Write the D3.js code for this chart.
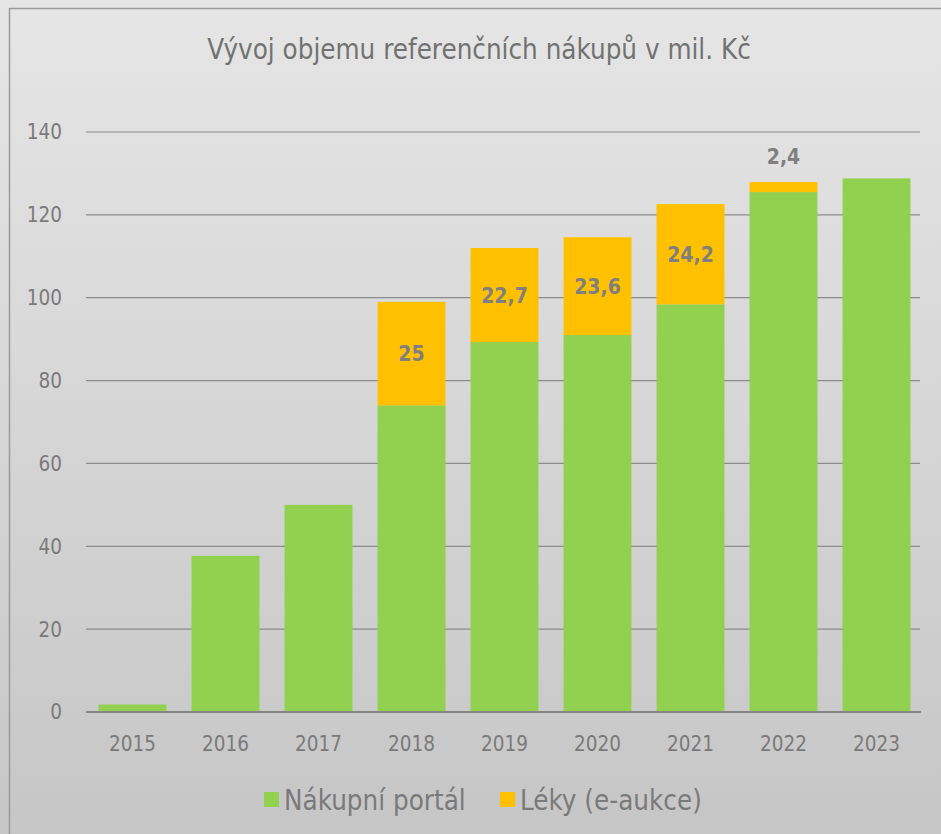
<!DOCTYPE html>
<html>
<head>
<meta charset="utf-8">
<script src="https://cdn.jsdelivr.net/npm/d3@7"></script>
<style>
  html, body { margin: 0; padding: 0; }
  body { width: 941px; height: 834px; overflow: hidden; }
  text { font-family: "DejaVu Sans Condensed", "DejaVu Sans", sans-serif; }
</style>
</head>
<body>
<div id="chart"></div>
<script>
// data
var years = ["2015", "2016", "2017", "2018", "2019", "2020", "2021", "2022", "2023"];
var portal = [1.8, 37.7, 50.0, 74.0, 89.3, 91.0, 98.4, 125.5, 128.8];
var leky = [0, 0, 0, 25, 22.7, 23.6, 24.2, 2.4, 0];
var yTicks = [0, 20, 40, 60, 80, 100, 120, 140];
var seriesNames = ["Nákupní portál", "Léky (e-aukce)"];
var colors = ["#92d050", "#ffc000"];

var width = 941, height = 834;
var margin = { top: 132, right: 18, bottom: 122, left: 86 };
var plotW = width - margin.left - margin.right;
var plotH = height - margin.top - margin.bottom;

var svg = d3.select("#chart").append("svg")
    .attr("width", width)
    .attr("height", height);

// background gradient
var grad = svg.append("defs").append("linearGradient")
    .attr("id", "bg").attr("x1", 0).attr("y1", 0).attr("x2", 0).attr("y2", 1);
grad.append("stop").attr("offset", "0%").attr("stop-color", "#e6e6e6");
grad.append("stop").attr("offset", "100%").attr("stop-color", "#c6c6c6");

svg.append("rect").attr("width", width).attr("height", height).attr("fill", "url(#bg)");
svg.append("rect")
    .attr("x", 9.5).attr("y", 8.5)
    .attr("width", width + 20).attr("height", height + 20)
    .attr("fill", "none").attr("stroke", "#9a9a9a").attr("stroke-width", 1.5);

// title
svg.append("text")
    .attr("x", 479).attr("y", 59)
    .attr("text-anchor", "middle")
    .attr("font-size", 27.5)
    .attr("fill", "#727272")
    .text("Vývoj objemu referenčních nákupů v mil. Kč");

var g = svg.append("g")
    .attr("transform", "translate(" + margin.left + "," + margin.top + ")");

var x = d3.scaleBand().domain(years).range([0, 837]).paddingInner(0.27).paddingOuter(0.135);
var y = d3.scaleLinear().domain([0, 140]).range([plotH, 0]);

// gridlines
g.append("g")
    .selectAll("line")
    .data(yTicks.filter(function(d) { return d > 0; }))
    .enter().append("line")
    .attr("x1", 0).attr("x2", 834)
    .attr("y1", function(d) { return y(d); })
    .attr("y2", function(d) { return y(d); })
    .attr("stroke", "#8c8c8c").attr("stroke-width", 1.2);

// y axis labels
g.append("g")
    .selectAll("text")
    .data(yTicks)
    .enter().append("text")
    .attr("x", -24).attr("y", function(d) { return y(d); })
    .attr("dy", "0.36em")
    .attr("text-anchor", "end")
    .attr("font-size", 20.5)
    .attr("fill", "#7a7a7a")
    .text(function(d) { return d; });

// stacked data
var rows = years.map(function(yr, i) { return { year: yr, portal: portal[i], leky: leky[i] }; });
var stack = d3.stack().keys(["portal", "leky"]);
var layers = stack(rows);

g.selectAll(".layer")
    .data(layers)
    .enter().append("g")
    .attr("class", "layer")
    .attr("fill", function(d, i) { return colors[i]; })
    .selectAll("rect")
    .data(function(d) { return d.filter(function(p) { return p[1] - p[0] > 0; }); })
    .enter().append("rect")
    .attr("x", function(d) { return x(d.data.year); })
    .attr("width", x.bandwidth())
    .attr("y", function(d) { return y(d[1]); })
    .attr("height", function(d) { return y(d[0]) - y(d[1]); });

// labels for e-aukce
g.append("g")
    .selectAll("text")
    .data(layers[1].filter(function(d) { return d[1] - d[0] > 0; }))
    .enter().append("text")
    .attr("x", function(d) { return x(d.data.year) + x.bandwidth() / 2; })
    .attr("y", function(d) {
        var h = y(d[0]) - y(d[1]);
        return h < 30 ? y(d[1]) - 26 : (y(d[0]) + y(d[1])) / 2;
    })
    .attr("dy", "0.36em")
    .attr("text-anchor", "middle")
    .attr("font-size", 21)
    .attr("font-weight", "bold")
    .attr("fill", "#7f7f7f")
    .text(function(d) { return d.data.leky.toString().replace(".", ","); });

// x axis line
g.append("line")
    .attr("x1", 0).attr("x2", 835)
    .attr("y1", plotH).attr("y2", plotH)
    .attr("stroke", "#858585").attr("stroke-width", 2);

// year labels
g.append("g")
    .selectAll("text")
    .data(years)
    .enter().append("text")
    .attr("x", function(d) { return x(d) + x.bandwidth() / 2; })
    .attr("y", plotH + 32)
    .attr("dy", "0.36em")
    .attr("text-anchor", "middle")
    .attr("font-size", 20.5)
    .attr("fill", "#7a7a7a")
    .text(function(d) { return d; });

// legend
var legendX = [264, 500];
var legend = svg.append("g").selectAll("g")
    .data(seriesNames)
    .enter().append("g")
    .attr("transform", function(d, i) { return "translate(" + legendX[i] + ",792)"; });
legend.append("rect")
    .attr("width", 15).attr("height", 15)
    .attr("fill", function(d, i) { return colors[i]; });
legend.append("text")
    .attr("x", 20).attr("y", 8)
    .attr("dy", "0.36em")
    .attr("font-size", 27.5)
    .attr("fill", "#7a7a7a")
    .text(function(d) { return d; });
</script>
</body>
</html>
